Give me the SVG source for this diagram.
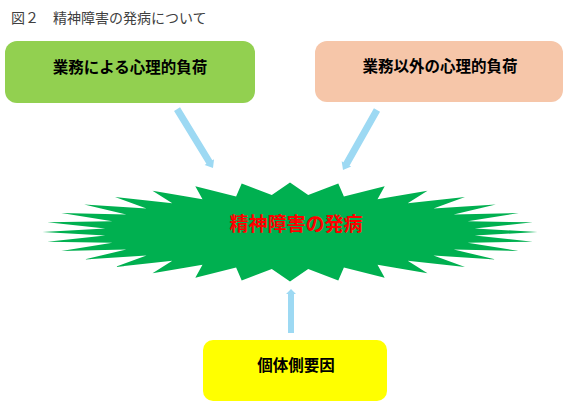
<svg xmlns="http://www.w3.org/2000/svg" width="565" height="403" viewBox="0 0 565 403">
<style>
text{font-family:"Noto Sans CJK JP","Noto Sans",sans-serif;}
.lbl{font-size:15.5px;font-weight:bold;fill:#000;text-anchor:middle;}
.arr{fill:#9DD9F3;}
</style>
<rect width="565" height="403" fill="#fff"/>
<text x="11" y="23" font-size="14" fill="#404040">図２　精神障害の発病について</text>
<g id="node-work">
<rect x="5" y="41" width="250" height="62" rx="12" fill="#92D050"/>
<text class="lbl" x="130" y="73">業務による心理的負荷</text>
</g>
<g id="node-nonwork">
<rect x="315" y="41" width="248" height="61" rx="12" fill="#F6C6A9"/>
<text class="lbl" x="440" y="72">業務以外の心理的負荷</text>
</g>
<g id="node-onset">
<polygon fill="#00B050" points="290,182.5 308.2,195.1 338.3,183.5 343.9,196.5 384.7,186.3 377.5,199.3 427.5,190.8 407.7,203.3 465,197 433.5,208.5 495.8,204.5 453.7,214.5 518.7,213.1 467.6,221.2 532.7,222.3 474.7,228.4 537.5,232 474.7,235.6 532.7,241.7 467.6,242.8 518.7,250.9 453.7,249.5 495.8,259.5 433.5,255.5 465,267 407.7,260.7 427.5,273.2 377.5,264.7 384.7,277.7 343.9,267.5 338.3,280.5 308.2,268.9 290,281.5 271.8,268.9 241.7,280.5 236.1,267.5 195.3,277.7 202.5,264.7 152.5,273.2 172.3,260.7 115,267 146.5,255.5 84.2,259.5 126.3,249.5 61.3,250.9 112.4,242.8 47.3,241.7 105.3,235.6 42.5,232 105.3,228.4 47.3,222.3 112.4,221.2 61.3,213.1 126.3,214.5 84.2,204.5 146.5,208.5 115,197 172.3,203.3 152.5,190.8 202.5,199.3 195.3,186.3 236.1,196.5 241.7,183.5 271.8,195.1"/>
<text x="296" y="231" font-size="19" font-weight="bold" fill="#FF0000" text-anchor="middle">精神障害の発病</text>
</g>
<g id="node-individual">
<rect x="203" y="340" width="184" height="61" rx="10" fill="#FFFF00"/>
<text class="lbl" x="296" y="371">個体側要因</text>
</g>
<g id="connectors">
<polygon class="arr" transform="translate(213,168) rotate(148.6)" points="0,0 5.5,7 3.5,7 3.5,69 -3.5,69 -3.5,7 -5.5,7"/>
<polygon class="arr" transform="translate(343,170) rotate(209.5)" points="0,0 5.5,7 3.5,7 3.5,69 -3.5,69 -3.5,7 -5.5,7"/>
<polygon class="arr" transform="translate(291,289)" points="0,0 5,5 3,5 3,44 -3,44 -3,5 -5,5"/>
</g>
</svg>
